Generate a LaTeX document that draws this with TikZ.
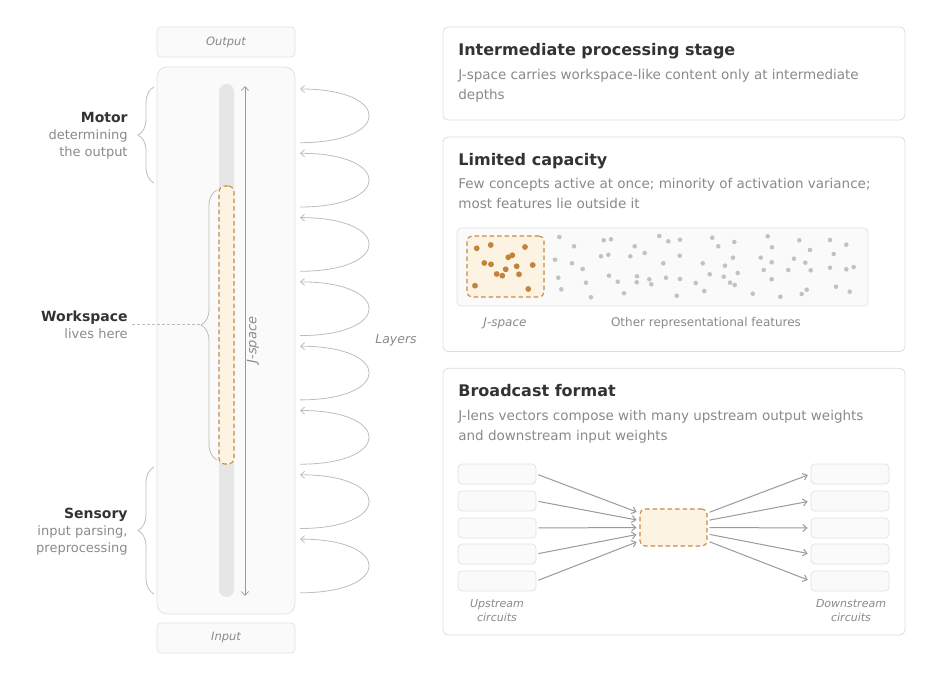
\documentclass[tikz,border=0pt]{standalone}
\usepackage{fontspec}
\setmainfont{DejaVu Sans}
\usetikzlibrary{arrows.meta, decorations.pathreplacing}

\definecolor{inktext}{HTML}{333333}
\definecolor{softtext}{HTML}{8A8A8A}
\definecolor{cardline}{HTML}{DDDDDD}
\definecolor{panelfill}{HTML}{FAFAFA}
\definecolor{panelline}{HTML}{E3E3E3}
\definecolor{barfill}{HTML}{E6E6E6}
\definecolor{jfill}{HTML}{FDF3E3}
\definecolor{jline}{HTML}{C98A45}
\definecolor{jdot}{HTML}{C0843E}
\definecolor{greydot}{HTML}{C2C2C2}
\definecolor{loopline}{HTML}{BDBDBD}
\definecolor{flowline}{HTML}{9A9A9A}

\begin{document}
\begin{tikzpicture}[
            x = 1pt, y = -1pt, % pixel grid, y runs downwards
            > = {Straight Barb[length=4pt, width=7pt]}, % arrow head style
            line width = 0.8pt
        ]

        \tikzset{
            card/.style = {draw=cardline, fill=white, rounded corners=5pt, inner sep=0},
            panel/.style = {draw=panelline, fill=panelfill, rounded corners=4pt, inner sep=0},
            slot/.style = {panel, minimum width=78pt, minimum height=20pt},
            jbox/.style = {draw=jline, fill=jfill, dash pattern=on 4.5pt off 3pt, line width=1.1pt,
                rounded corners=5pt, inner sep=0},
            cardtitle/.style = {anchor=base west, inner sep=0, text=inktext,
                font=\fontsize{16}{19}\selectfont\bfseries},
            % base anchor sits on the last line
            cardtext/.style = {anchor=base west, inner sep=0, align=left, text=softtext,
                font=\fontsize{13.5}{20}\selectfont},
            sidelabel/.style = {anchor=base east, inner sep=0, align=right, text=softtext,
                font=\fontsize{13}{17}\selectfont},
            caption/.style = {inner sep=0, text=softtext, font=\fontsize{12}{14}\selectfont},
            brace/.style = {decorate, decoration={brace, amplitude=16pt}, draw=loopline},
            flow/.style = {->, draw=flowline, line width=1pt, shorten <=2pt, shorten >=3pt}
        }

        \useasboundingbox (0,0) rectangle (927,676);

        % --- layer column ---
        \node[panel, minimum width=138pt, minimum height=30pt] (out) at (226,42)
            {\fontsize{11.5}{14}\selectfont\itshape\color{softtext} Output};
        \node[panel, rounded corners=10pt, minimum width=138pt, minimum height=547pt] (col) at (226,340.5) {};
        \node[panel, minimum width=138pt, minimum height=30pt] (in) at (226,638)
            {\fontsize{11.5}{14}\selectfont\itshape\color{softtext} Input};

        \node[fill=barfill, rounded corners=7.5pt, inner sep=0, minimum width=15pt, minimum height=513pt] (bar) at (226.5,340.5) {};
        \node[jbox, rounded corners=6pt, minimum width=15pt, minimum height=278pt] (jbar) at (226.5,325) {};

        \coordinate (jtop) at (245,86);
        \coordinate (jbot) at (245,596);
        \draw[<->, draw=flowline, line width=0.7pt] (jbot) -- (jtop);
        \node[caption, rotate=90, font=\fontsize{13}{15}\selectfont\itshape] (jlab) at (253,340) {J-space};

        % residual loops, one per layer
        \foreach \i in {0,...,7} {
            \pgfmathsetmacro{\ytop}{89+64.3*\i}
            \pgfmathsetmacro{\ybot}{\ytop+53.7}
            \coordinate (la\i) at (300,\ybot);
            \coordinate (lb\i) at (300,\ytop);
            \draw[->, draw=loopline] (la\i) .. controls (392,\ybot) and (392,\ytop) .. (lb\i);
        }
        \node[caption, font=\fontsize{12.5}{15}\selectfont\itshape] (layers) at (396,340) {Layers};

        % --- side labels ---
        \node[sidelabel] (motor) at (128,156.7)
            {\textcolor{inktext}{\fontsize{14}{17}\selectfont\bfseries Motor}\\determining\\the output};
        \node[sidelabel] (ws) at (128,338.3)
            {\textcolor{inktext}{\fontsize{14}{17}\selectfont\bfseries Workspace}\\lives here};
        \node[sidelabel] (sens) at (128,552.3)
            {\textcolor{inktext}{\fontsize{14}{17}\selectfont\bfseries Sensory}\\input parsing,\\preprocessing};

        \draw[brace] (154,183) -- (154,87);
        \draw[brace] (217,460) -- (217,190);
        \draw[brace] (154,594) -- (154,467);

        \coordinate (wsfoot) at (132,324.3);
        \coordinate (wstip) at (201,324.3);
        \draw[draw=loopline, dash pattern=on 3pt off 2pt, line width=0.7pt] (wsfoot) -- (wstip);

        % --- card 1 ---
        \node[card, minimum width=462pt, minimum height=93pt] (stage) at (674,73.5) {};
        \node[cardtitle] (stagetitle) at (458,56) {Intermediate processing stage};
        \node[cardtext] (stagetext) at (458,99.5)
            {J-space carries workspace-like content only at intermediate\\depths};

        % --- card 2 ---
        \node[card, minimum width=462pt, minimum height=214.6pt] (cap) at (674,244.3) {};
        \node[cardtitle] (captitle) at (458,166) {Limited capacity};
        \node[cardtext] (captext) at (458,209)
            {Few concepts active at once; minority of activation variance;\\most features lie outside it};

        \node[panel, minimum width=411pt, minimum height=78pt] (field) at (662.5,267) {};
        \node[jbox, minimum width=77pt, minimum height=61pt] (jfield) at (505.5,266.5) {};

        \foreach \px/\py in {476.7/248.3, 490.7/245, 525/247, 512.3/255.3, 508.3/257.3,
                484.3/263, 491/264.3, 516.7/266.3, 532.7/265, 505.7/269.3,
                496.7/274, 502.3/275.7, 519/274.3, 475/285.7, 528.3/289}
            \fill[jdot] (\px,\py) circle (2.9pt);

        \foreach \px/\py in {559.3/237, 574/246.3, 555/259.7, 572/263.3, 582.7/269,
                558.3/277.7, 586/282.7, 561.3/289.3, 591/297.3,
                603.7/240.3, 611/239.3, 601/256.3, 608.3/254.7, 634.7/246.3,
                630.3/256.3, 644.7/253, 609/275.7, 617.7/281.7, 624/293.3,
                637/276.3, 636.7/282.3, 649.3/279.3, 651.3/284.3,
                659.3/236, 668.3/241.3, 680/239.7, 679.7/255.7, 663.3/263.3,
                666/277.7, 680/279, 676.7/295.7,
                712.3/237.7, 718.3/246.3, 734.3/242, 733/257.7, 702.7/263.3,
                725/265.7, 709.7/274.3, 723.7/276.7, 737.7/273, 730/282.7,
                734.7/285, 695.7/283, 704.3/291,
                767.7/236.3, 772/247.3, 760.7/257.7, 771.7/262.3, 763.7/270,
                771.7/279.3, 752.7/293.7, 780.3/296.7,
                799.3/240.3, 810/250, 794/258.7, 805.3/262.7, 810.7/270.3,
                788.3/270, 806.7/289.7, 801.7/294,
                830/240, 846.3/244.7, 833.7/254, 830/267.7, 846.3/269.3,
                853.7/267, 836/286.7, 849.7/291.7}
            \fill[greydot] (\px,\py) circle (2.3pt);

        \node[caption, font=\fontsize{12}{14}\selectfont\itshape] (jcap) at (505,323) {J-space};
        \node[caption] (othercap) at (706,323) {Other representational features};

        % --- card 3 ---
        \node[card, minimum width=462pt, minimum height=266.7pt] (bcast) at (674,501.7) {};
        \node[cardtitle] (bcasttitle) at (458,396.5) {Broadcast format};
        \node[cardtext] (bcasttext) at (458,440)
            {J-lens vectors compose with many upstream output weights\\and downstream input weights};

        \node[jbox, minimum width=67pt, minimum height=37pt] (hub) at (673.5,527.5) {};

        \foreach \k/\yy/\dy in {1/474/14.5, 2/501/7, 3/528/0, 4/554/-6.5, 5/581/-13.5} {
            \node[slot] (up\k) at (497,\yy) {};
            \node[slot] (down\k) at (850,\yy) {};
            \draw[flow] (up\k.east) -- ([yshift=\dy pt]hub.west);
            \draw[flow] ([yshift=\dy pt]hub.east) -- (down\k.west);
        }

        \node[caption, align=center, font=\fontsize{11}{14}\selectfont\itshape] (upcap) at (497,611) {Upstream\\circuits};
        \node[caption, align=center, font=\fontsize{11}{14}\selectfont\itshape] (downcap) at (851,611) {Downstream\\circuits};
    \end{tikzpicture}
\end{document}
